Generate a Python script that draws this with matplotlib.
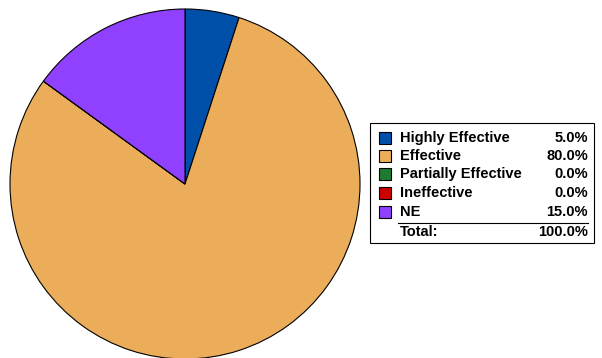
import matplotlib
matplotlib.use("Agg")
import matplotlib.pyplot as plt
from matplotlib.patches import Rectangle

categories = ["Highly Effective", "Effective", "Partially Effective", "Ineffective", "NE"]
values = [5.0, 80.0, 0.0, 0.0, 15.0]
colors = ["#0050AA", "#EBAD5A", "#1E7B32", "#CC0000", "#9040FF"]

W, H = 602, 358
fig = plt.figure(figsize=(W / 100, H / 100), dpi=100)
plt.rcParams['font.family'] = ['Liberation Sans', 'DejaVu Sans']

# pie: center ~ (185,184) px, radius ~175 px
cx, cy, r = 185, 184, 175
ax = fig.add_axes([(cx - r) / W, (H - cy - r) / H, 2 * r / W, 2 * r / H])
ax.pie(values, colors=colors, startangle=90, counterclock=False,
       wedgeprops=dict(edgecolor="black", linewidth=0.8), radius=1.0)
ax.set_xlim(-1, 1)
ax.set_ylim(-1, 1)
ax.set_aspect("equal")
ax.axis("off")

# legend table, drawn in pixel coords
def fx(x):
    return x / W

def fy(y):
    return (H - y) / H

FS = 10.5

box = Rectangle((fx(370), fy(243)), fx(594) - fx(370), fy(123) - fy(243),
                transform=fig.transFigure, facecolor="white", edgecolor="black",
                linewidth=0.8)
fig.patches.append(box)

row_y = [138, 156, 174, 193, 212]
for name, val, col, y in zip(categories, values, colors, row_y):
    sq = Rectangle((fx(379), fy(y + 6)), fx(391) - fx(379), fy(y - 6) - fy(y + 6),
                   transform=fig.transFigure, facecolor=col, edgecolor="black",
                   linewidth=0.8)
    fig.patches.append(sq)
    fig.text(fx(400), fy(y), name, ha="left", va="center", fontsize=FS,
             fontweight="bold")
    fig.text(fx(588), fy(y), "%.1f%%" % val, ha="right", va="center",
             fontsize=FS, fontweight="bold")

fig.add_artist(plt.Line2D([fx(398), fx(588)], [fy(223), fy(223)],
                          transform=fig.transFigure, color="black", linewidth=0.8))
fig.text(fx(400), fy(232), "Total:", ha="left", va="center", fontsize=FS,
         fontweight="bold")
fig.text(fx(588), fy(232), "%.1f%%" % sum(values), ha="right", va="center",
         fontsize=FS, fontweight="bold")

fig.savefig("out.png", dpi=100)
